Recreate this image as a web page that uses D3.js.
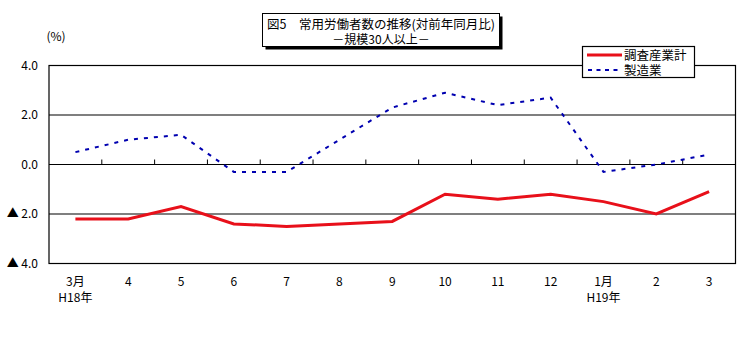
<!DOCTYPE html>
<html>
<head>
<meta charset="utf-8">
<script src="https://cdn.jsdelivr.net/npm/d3@7"></script>
<style>
  body { margin: 0; background: #fff; }
  text { font-family: "Noto Sans CJK JP", sans-serif; }
</style>
</head>
<body>
<script>
// months on the x axis, with the year under the first month of each year
var months = ["3月", "4", "5", "6", "7", "8", "9", "10", "11", "12", "1月", "2", "3"];
var years = ["H18年", "", "", "", "", "", "", "", "", "", "H19年", "", ""];

// 調査産業計 and 製造業, % change on the same month a year before
var total = [-2.2, -2.2, -1.7, -2.4, -2.5, -2.4, -2.3, -1.2, -1.4, -1.2, -1.5, -2.0, -1.1];
var manufacturing = [0.5, 1.0, 1.2, -0.3, -0.3, 1.0, 2.3, 2.9, 2.4, 2.7, -0.3, 0.0, 0.4];

var yTicks = [4, 2, 0, -2, -4];

var w = 745, h = 360;
var plotLeft = 49, plotRight = 735.5, plotTop = 65.5, plotBottom = 263.5;

var svg = d3.select("body")
            .append("svg")
            .attr("width", w)
            .attr("height", h);

var xScale = d3.scaleBand()
               .domain(d3.range(months.length))
               .range([plotLeft, plotRight])
               .paddingInner(0).paddingOuter(0);

var yScale = d3.scaleLinear()
               .domain([-4, 4])
               .range([plotBottom, plotTop]);

function cx(i) { return xScale(i) + xScale.bandwidth() / 2; }

// plot frame
svg.append("rect")
   .attr("x", plotLeft).attr("y", plotTop)
   .attr("width", plotRight - plotLeft).attr("height", plotBottom - plotTop)
   .attr("fill", "none").attr("stroke", "#000").attr("stroke-width", 1.2);

// gridlines
svg.selectAll(".grid")
   .data([-2, 0, 2])
   .enter()
   .append("line")
   .attr("x1", plotLeft).attr("x2", plotRight)
   .attr("y1", function(d) { return yScale(d); })
   .attr("y2", function(d) { return yScale(d); })
   .attr("stroke", "#000").attr("stroke-width", 1.2);

// category ticks on the zero line
svg.selectAll(".tick-x")
   .data(d3.range(1, months.length))
   .enter()
   .append("line")
   .attr("x1", function(d) { return xScale(d); })
   .attr("x2", function(d) { return xScale(d); })
   .attr("y1", yScale(0)).attr("y2", yScale(0) - 5)
   .attr("stroke", "#000");

// y axis labels
var y_axis = d3.axisLeft(yScale)
               .tickValues(yTicks)
               .tickSize(0)
               .tickPadding(11)
               .tickFormat(function(d) { return d < 0 ? "▲ " + d3.format(".1f")(-d) : d3.format(".1f")(d); });

var gy = svg.append("g")
   .attr("transform", "translate(" + plotLeft + ",0)")
   .call(y_axis);
gy.select(".domain").remove();
gy.selectAll("text").style("font-size", "12px").attr("fill", "#000")
  .style("font-family", "'Noto Sans CJK JP', sans-serif");

svg.append("text")
   .attr("x", 56).attr("y", 41)
   .attr("text-anchor", "middle")
   .style("font-size", "12px")
   .text("(%)");

// x labels
svg.selectAll(".xlab")
   .data(months)
   .enter()
   .append("text")
   .attr("x", function(d, i) { return cx(i); })
   .attr("y", 286)
   .attr("text-anchor", "middle")
   .style("font-size", "12px")
   .text(function(d) { return d; });

svg.selectAll(".ylab")
   .data(years)
   .enter()
   .append("text")
   .attr("x", function(d, i) { return cx(i); })
   .attr("y", 302)
   .attr("text-anchor", "middle")
   .style("font-size", "12px")
   .text(function(d) { return d; });

// lines
var line = d3.line()
             .x(function(d, i) { return cx(i); })
             .y(function(d) { return yScale(d); });

svg.append("path")
   .datum(manufacturing)
   .attr("d", line)
   .attr("fill", "none")
   .attr("stroke", "#0000b0")
   .attr("stroke-width", 2)
   .attr("stroke-dasharray", "4,6");

svg.append("path")
   .datum(total)
   .attr("d", line)
   .attr("fill", "none")
   .attr("stroke", "#e8101a")
   .attr("stroke-width", 3);

// title box with shadow
svg.append("rect")
   .attr("x", 265.5).attr("y", 16.5).attr("width", 237).attr("height", 33)
   .attr("fill", "#000");
svg.append("rect")
   .attr("x", 262.5).attr("y", 13.5).attr("width", 237).attr("height", 33)
   .attr("fill", "#fff").attr("stroke", "#000").attr("stroke-width", 1);
svg.append("text")
   .attr("x", 381).attr("y", 28.5)
   .attr("text-anchor", "middle")
   .style("font-size", "12.5px")
   .text("図5　常用労働者数の推移(対前年同月比)");
svg.append("text")
   .attr("x", 381).attr("y", 43.5)
   .attr("text-anchor", "middle")
   .style("font-size", "12px")
   .text("－規模30人以上－");

// legend
var legendNames = ["調査産業計", "製造業"];
svg.append("rect")
   .attr("x", 582.5).attr("y", 46.5).attr("width", 112).attr("height", 31)
   .attr("fill", "#fff").attr("stroke", "#000").attr("stroke-width", 1.2);
svg.append("line")
   .attr("x1", 587).attr("x2", 622).attr("y1", 55).attr("y2", 55)
   .attr("stroke", "#e8101a").attr("stroke-width", 3);
svg.append("line")
   .attr("x1", 588).attr("x2", 622).attr("y1", 70).attr("y2", 70)
   .attr("stroke", "#0000b0").attr("stroke-width", 2).attr("stroke-dasharray", "4,4.5");
svg.selectAll(".leg")
   .data(legendNames)
   .enter()
   .append("text")
   .attr("x", 624)
   .attr("y", function(d, i) { return 59.5 + i * 15; })
   .style("font-size", "12.5px")
   .text(function(d) { return d; });
</script>
</body>
</html>
